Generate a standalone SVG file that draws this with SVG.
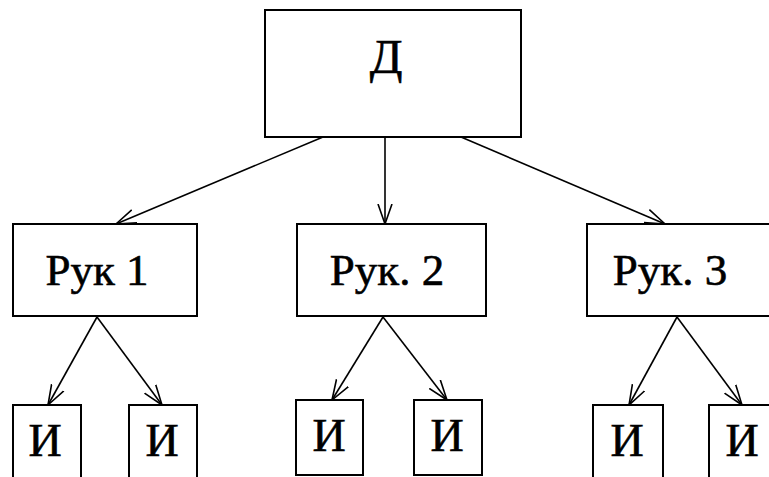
<svg xmlns="http://www.w3.org/2000/svg" width="769" height="477" viewBox="0 0 769 477">
<defs>
<style>
.box{fill:#fff;stroke:#000;stroke-width:2}
.lbl{font-family:"Liberation Serif","Times New Roman",serif;fill:#000;stroke:#000;stroke-width:0.6;text-anchor:middle}
.con{stroke:#000;stroke-width:1.6;fill:none;marker-end:url(#arr)}
</style>
<marker id="arr" viewBox="0 0 20 16" refX="20" refY="8" markerWidth="20" markerHeight="16" markerUnits="userSpaceOnUse" orient="auto">
<path d="M0,1 L20,8 L0,15" fill="none" stroke="#000" stroke-width="1.6"/>
</marker>
</defs>
<rect width="769" height="477" fill="#fff"/>
<g id="connectors">
<line class="con" x1="323" y1="137" x2="116" y2="224"/>
<line class="con" x1="385" y1="137" x2="385" y2="224"/>
<line class="con" x1="461" y1="137" x2="665" y2="224"/>
<line class="con" x1="97" y1="317" x2="48" y2="405"/>
<line class="con" x1="97" y1="317" x2="162" y2="405"/>
<line class="con" x1="383" y1="317" x2="332" y2="400"/>
<line class="con" x1="383" y1="317" x2="447" y2="400"/>
<line class="con" x1="677" y1="317" x2="629" y2="405"/>
<line class="con" x1="677" y1="317" x2="742" y2="405"/>
</g>
<g id="node-d">
<rect class="box" x="265" y="10" width="256" height="127"/>
<text class="lbl" x="386" y="73" font-size="48">Д</text>
</g>
<g id="node-ruk1">
<rect class="box" x="13" y="224" width="184" height="92"/>
<text class="lbl" x="97" y="285" font-size="45">Рук 1</text>
</g>
<g id="node-ruk2">
<rect class="box" x="297" y="224" width="189" height="92"/>
<text class="lbl" x="387" y="285" font-size="45">Рук. 2</text>
</g>
<g id="node-ruk3">
<rect class="box" x="587" y="224" width="189" height="92"/>
<text class="lbl" x="670" y="285" font-size="45">Рук. 3</text>
</g>
<g id="node-i1">
<rect class="box" x="13" y="405" width="68" height="80"/>
<text class="lbl" x="45" y="456" font-size="46">И</text>
</g>
<g id="node-i2">
<rect class="box" x="129" y="405" width="68" height="80"/>
<text class="lbl" x="162" y="456" font-size="46">И</text>
</g>
<g id="node-i3">
<rect class="box" x="296" y="400" width="67" height="75"/>
<text class="lbl" x="329" y="451" font-size="46">И</text>
</g>
<g id="node-i4">
<rect class="box" x="414" y="400" width="68" height="75"/>
<text class="lbl" x="447" y="451" font-size="46">И</text>
</g>
<g id="node-i5">
<rect class="box" x="593" y="405" width="70" height="80"/>
<text class="lbl" x="627" y="456" font-size="46">И</text>
</g>
<g id="node-i6">
<rect class="box" x="709" y="405" width="70" height="80"/>
<text class="lbl" x="742" y="456" font-size="46">И</text>
</g>
</svg>
